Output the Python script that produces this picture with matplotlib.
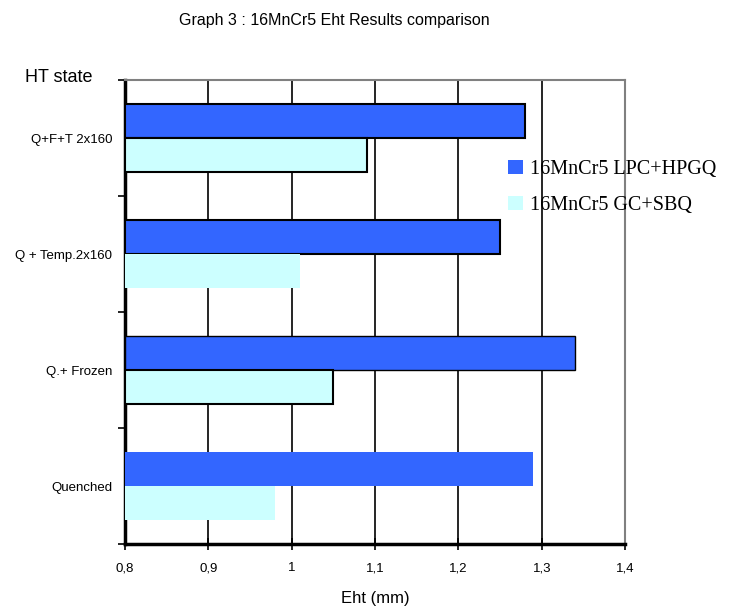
import matplotlib
matplotlib.use("Agg")
import matplotlib.pyplot as plt
import numpy as np

# HT states, bottom to top as drawn on the chart
states = ["Quenched", "Q.+ Frozen", "Q + Temp.2x160", "Q+F+T 2x160"]
lpc_hpgq = [1.29, 1.34, 1.25, 1.28]
gc_sbq = [0.98, 1.05, 1.01, 1.09]
series_names = ["16MnCr5 LPC+HPGQ", "16MnCr5 GC+SBQ"]
x_ticks = [0.8, 0.9, 1.0, 1.1, 1.2, 1.3, 1.4]
x_tick_labels = ["0,8", "0,9", "1", "1,1", "1,2", "1,3", "1,4"]

blue = "#3366ff"
cyan = "#ccffff"

fig = plt.figure(figsize=(7.39, 6.07), dpi=100)
ax = fig.add_axes([0.169, 0.1038, 0.677, 0.7642])

y = np.arange(len(states))
h = 0.29
# some bars carry a dark outline in the original, some do not
blue_lw = [0, 1.0, 1.5, 1.5]
cyan_lw = [0, 1.5, 0, 1.5]

base = x_ticks[0]
ax.barh(y + h / 2, np.array(lpc_hpgq) - base, height=h, left=base,
        color=blue, edgecolor="black", linewidth=blue_lw, zorder=3,
        label=series_names[0])
ax.barh(y - h / 2, np.array(gc_sbq) - base, height=h, left=base,
        color=cyan, edgecolor="black", linewidth=cyan_lw, zorder=3,
        label=series_names[1])

ax.set_xlim(0.8, 1.4)
ax.set_ylim(-0.5, 3.5)

for xv in x_ticks[1:-1]:
    ax.axvline(xv, color="black", linewidth=1.2, zorder=1)

ax.set_xticks(x_ticks)
ax.set_xticklabels(x_tick_labels, fontsize=9.5, family="Liberation Sans")
ax.tick_params(axis="x", direction="inout", length=8, width=1.2, pad=9)

ax.set_yticks(y)
ax.set_yticklabels(states, fontsize=9.5, family="Liberation Sans")
ax.set_yticks(np.arange(len(states) + 1) - 0.5, minor=True)
ax.tick_params(axis="y", which="major", length=0, pad=9)
ax.tick_params(axis="y", which="minor", direction="out", length=5, width=1.2)

for side in ["left", "bottom"]:
    ax.spines[side].set_linewidth(2.5)
    ax.spines[side].set_color("black")
for side in ["top", "right"]:
    ax.spines[side].set_linewidth(1.5)
    ax.spines[side].set_color("#808080")

ax.set_xlabel("Eht (mm)", fontsize=12, family="Liberation Sans", labelpad=12)

fig.text(0.453, 0.967, "Graph 3 : 16MnCr5 Eht Results comparison",
         ha="center", va="center", fontsize=11.5, family="Liberation Sans")
fig.text(0.034, 0.873, "HT state", ha="left", va="center",
         fontsize=13, family="Liberation Sans")

fig.legend(loc="upper left", bbox_to_anchor=(0.688, 0.737), frameon=False,
           prop={"family": "Liberation Serif", "size": 14.5},
           handlelength=0.7, handleheight=0.7, handletextpad=0.35,
           labelspacing=0.85, borderpad=0, borderaxespad=0)

fig.savefig("out.png", dpi=100)
plt.close(fig)
